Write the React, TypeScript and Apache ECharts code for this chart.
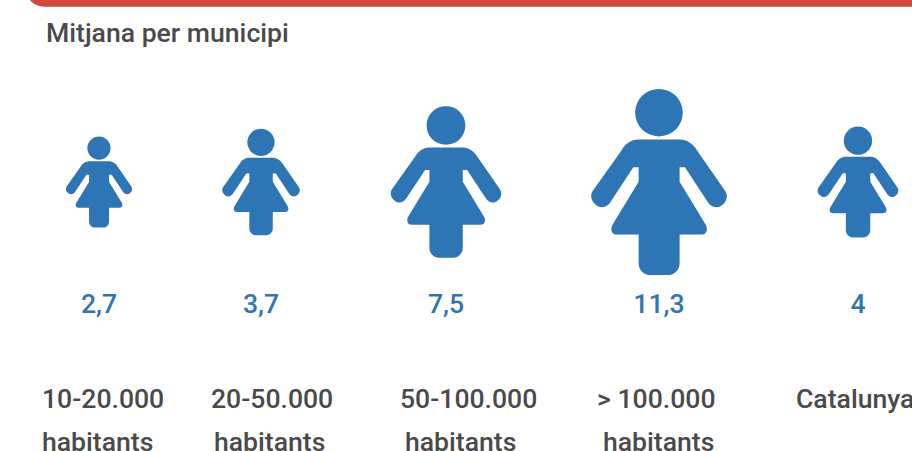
import React, { useEffect, useRef } from "react";
import * as echarts from "echarts";

const categories = ["10-20.000 habitants", "20-50.000 habitants", "50-100.000 habitants", "> 100.000 habitants", "Catalunya"];
const values = [2.7, 3.7, 7.5, 11.3, 4];
const valueLabels = ["2,7", "3,7", "7,5", "11,3", "4"];
const title = "Mitjana per municipi";
const firstLines = ["10-20.000", "20-50.000", "50-100.000", "> 100.000", "Catalunya"];
const secondLines = ["habitants", "habitants", "habitants", "habitants", ""];

// Layout only
const cellCentres = [99, 261, 446, 659, 858];
const firstLineX = [42, 211, 400, 597, 796];
const secondLineX = [42, 214, 405, 603, 0];

const BLUE = "#2e75b5";
const GREY = "#4a4a4a";
const FONT = "Roboto";
const FIGURE =
  "path://M338.5 127A71.5 71.5 0 1 1 195.5 127A71.5 71.5 0 1 1 338.5 127Z" +
  "M205 208L330 208C352 208 369 221 381 240L466 363C475 377 471 394 458 404C444 417 425 412 415 398L345 291L329 291L329 335L408 465C415 479 409 494 395 494L329 494L329 580C329 600 313 616 293 616L242 616C222 616 206 600 206 580L206 494L140 494C126 494 120 479 127 465L206 335L206 291L190 291L120 398C110 412 91 417 77 404C64 394 59 377 68 363L155 240C166 221 183 208 205 208Z";

const figureSize = (v: number): [number, number] => {
  const h = 55.4 * Math.sqrt(v);
  return [h * (408 / 560), h];
};

export default function App() {
  const ref = useRef<HTMLDivElement>(null);
  useEffect(() => {
    document.body.style.margin = "0";
    const chart = echarts.init(ref.current!, undefined, { renderer: "svg" });
    const textStyle = { fontFamily: FONT, fontWeight: 500, fontSize: 26.6, fill: GREY };
    const labels: any[] = [];
    firstLines.forEach((t, i) => {
      labels.push({ type: "text", x: firstLineX[i], y: 398.5, style: { ...textStyle, text: t, verticalAlign: "middle" } });
      if (secondLines[i]) {
        labels.push({ type: "text", x: secondLineX[i], y: 441, style: { ...textStyle, text: secondLines[i], verticalAlign: "middle" } });
      }
    });
    chart.setOption({
      animation: false,
      backgroundColor: "#ffffff",
      grid: categories.map((_, i) => ({ left: cellCentres[i] - 50, width: 100, top: 81.5, height: 201 })),
      xAxis: categories.map((c, i) => ({ type: "category", gridIndex: i, data: [c], show: false })),
      yAxis: categories.map((_, i) => ({ type: "category", gridIndex: i, data: ["mitjana"], show: false })),
      series: categories.map((c, i) => ({
        type: "scatter",
        xAxisIndex: i,
        yAxisIndex: i,
        symbol: FIGURE,
        symbolKeepAspect: false,
        symbolSize: (d: any) => figureSize(d[2]),
        itemStyle: { color: BLUE, opacity: 1 },
        label: {
          show: true,
          position: "inside",
          offset: [0, 121.5],
          formatter: () => valueLabels[i],
          color: BLUE,
          fontFamily: FONT,
          fontWeight: 500,
          fontSize: 26.6,
        },
        data: [[c, "mitjana", values[i]]],
      })),
      graphic: [
        { type: "rect", shape: { x: 26, y: -30, width: 920, height: 36.7, r: 18 }, style: { fill: "#cf4a3c" } },
        { type: "text", x: 46, y: 32, style: { ...textStyle, text: title, verticalAlign: "middle" } },
        ...labels,
      ],
    });
    return () => chart.dispose();
  }, []);
  return <div ref={ref} style={{ width: 912, height: 451 }} />;
}
